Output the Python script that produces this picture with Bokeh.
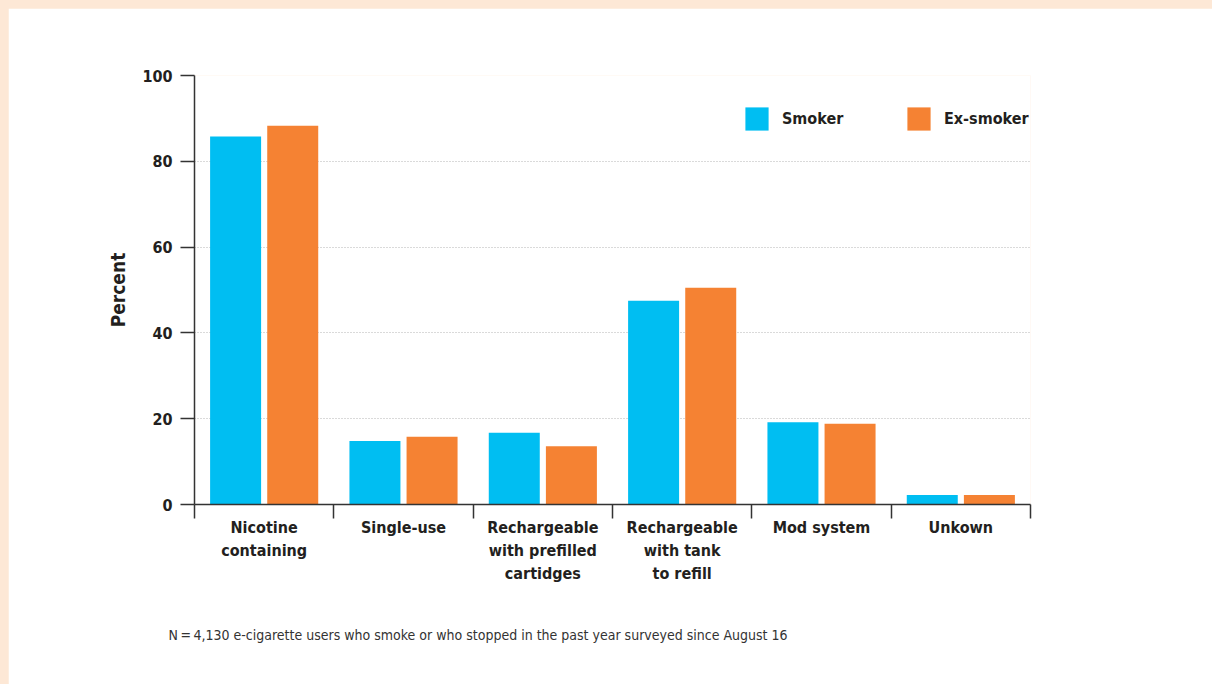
import numpy as np
from bokeh.plotting import figure
from bokeh.models import (ColumnDataSource, Range1d, FixedTicker, Legend, LegendItem, Title)
from bokeh.transform import dodge
from bokeh.embed import file_html
from bokeh.resources import INLINE

# ---- data ----
categories = ["Nicotine\ncontaining", "Single-use", "Rechargeable\nwith prefilled\ncartidges",
              "Rechargeable\nwith tank\nto refill", "Mod system", "Unkown"]
smoker = [85.8, 14.8, 16.7, 47.5, 19.2, 2.2]
ex_smoker = [88.3, 15.8, 13.6, 50.5, 18.8, 2.2]
y_ticks = [0, 20, 40, 60, 80, 100]
series_names = ["Smoker", "Ex-smoker"]
footnote = "N\u2009=\u20094,130 e-cigarette users who smoke or who stopped in the past year surveyed since August 16"

BLUE = "#00BEF2"
ORANGE = "#F58233"
TXT = "#231F20"
FONT = "DejaVu Sans Condensed"

centers = [i + 0.5 for i in range(len(categories))]
src = ColumnDataSource(dict(x=centers, smoker=smoker, ex=ex_smoker))

p = figure(width=1204, height=676, output_backend="svg", toolbar_location=None,
           x_range=Range1d(0, len(categories)), y_range=Range1d(0, 100),
           min_border_left=186, min_border_right=182, min_border_top=67, min_border_bottom=180)
p.outline_line_color = None
p.background_fill_color = "white"
p.border_fill_color = "white"

r1 = p.vbar(x=dodge("x", -0.205), top="smoker", width=0.366, source=src,
            fill_color=BLUE, line_color=None)
r2 = p.vbar(x=dodge("x", 0.205), top="ex", width=0.366, source=src,
            fill_color=ORANGE, line_color=None)

# y axis
yax = p.yaxis[0]
yax.ticker = FixedTicker(ticks=y_ticks)
yax.major_tick_in = 0
yax.major_tick_out = 14
yax.minor_tick_out = 0
yax.minor_tick_in = 0
yax.axis_line_color = "#333333"
yax.axis_line_width = 1.5
yax.major_tick_line_color = "#333333"
yax.major_tick_line_width = 1.5
yax.major_label_standoff = 8
yax.major_label_text_font = FONT
yax.major_label_text_font_style = "bold"
yax.major_label_text_font_size = "16px"
yax.major_label_text_color = TXT
yax.axis_label = "Percent"
yax.axis_label_text_font = FONT
yax.axis_label_text_font_style = "bold"
yax.axis_label_text_font_size = "19px"
yax.axis_label_text_color = TXT
yax.axis_label_standoff = 10

# x axis: labels at centers, ticks at boundaries (minor ticks)
xax = p.xaxis[0]
xax.ticker = FixedTicker(ticks=centers, minor_ticks=list(range(len(categories) + 1)))
xax.major_label_overrides = {c: lab for c, lab in zip(centers, categories)}
xax.major_tick_in = 0
xax.major_tick_out = 0
xax.minor_tick_in = 0
xax.minor_tick_out = 14
xax.minor_tick_line_color = "#333333"
xax.minor_tick_line_width = 1.5
xax.axis_line_color = "#333333"
xax.axis_line_width = 1.5
xax.major_label_standoff = -1
xax.major_label_text_font = FONT
xax.major_label_text_font_style = "bold"
xax.major_label_text_font_size = "16px"
xax.major_label_text_color = TXT
xax.major_label_text_line_height = 1.22

p.xgrid.visible = False
p.ygrid.ticker = FixedTicker(ticks=y_ticks)
p.ygrid.grid_line_color = "#B5B5B5"
p.ygrid.grid_line_dash = "1 2"
p.ygrid.grid_line_width = 1

# legends (one per item for exact placement)
for rend, name, loc in [(r1, series_names[0], (548, 371)), (r2, series_names[1], (710, 371))]:
    lg = Legend(items=[LegendItem(label=name, renderers=[rend])], location=loc,
                orientation="horizontal", glyph_width=29, glyph_height=29,
                label_standoff=11, padding=0, margin=0, spacing=0,
                border_line_color=None, background_fill_alpha=0,
                label_text_font=FONT, label_text_font_style="bold",
                label_text_font_size="16px", label_text_color=TXT)
    p.add_layout(lg)

p.add_layout(Title(text="\n" + footnote, align="left", offset=-26, standoff=10,
                   vertical_align="top", text_line_height=2.25,
                   text_font=FONT, text_font_size="14px",
                   text_font_style="normal", text_color="#333333"), "below")

html = file_html(p, INLINE)
html = html.replace("</head>", "<style>html,body{background:#FDE8D6 !important;}"
                    "body{margin:8px 0 0 8px !important;overflow:hidden !important;}</style></head>", 1)
open("out.html", "w").write(html)
